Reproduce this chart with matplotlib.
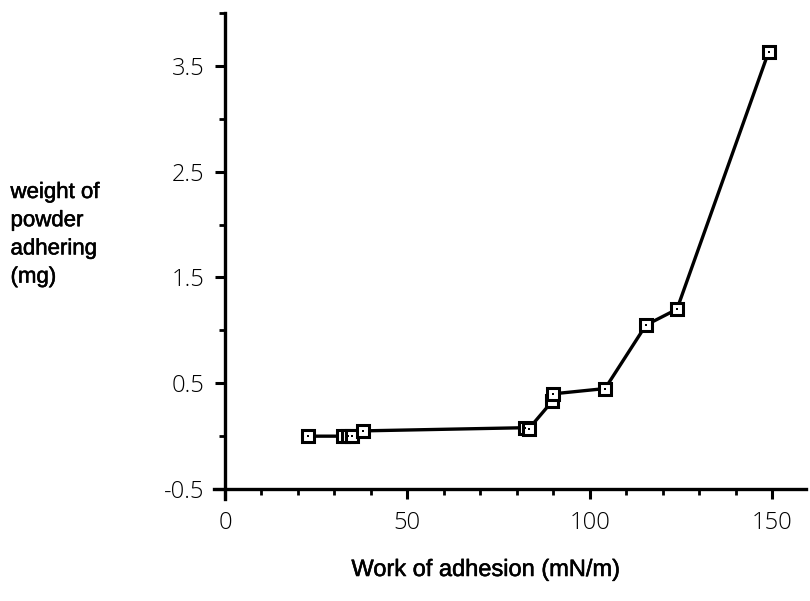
import matplotlib
matplotlib.use("Agg")
import matplotlib.pyplot as plt
import matplotlib.patheffects as pe
from matplotlib.ticker import MultipleLocator
import numpy as np

# work of adhesion (mN/m) and weight of powder adhering (mg)
work = [22.8, 32.4, 33.6, 34.8, 37.8, 82.3, 83.3, 89.7, 89.9, 104.2, 115.4, 123.9, 149.0]
weight = [0.0, 0.0, 0.0, 0.0, 0.05, 0.08, 0.07, 0.33, 0.40, 0.45, 1.05, 1.20, 3.63]

xticks = [0, 50, 100, 150]
yticks = [-0.5, 0.5, 1.5, 2.5, 3.5]
xlabel = "Work of adhesion (mN/m)"
ylabel = "weight of\npowder\nadhering\n(mg)"

fig = plt.figure(figsize=(8.1, 6.01), dpi=100)
ax = fig.add_axes([0.2642, 0.1697, 0.731, 0.8087])

ax.plot(work, weight, color="black", lw=2.4, zorder=2)
ax.plot(work, weight, ls="none", marker="s", ms=8.5, mfc="white", mec="black", mew=2.2, zorder=3)
ax.plot(work, weight, ls="none", marker="s", ms=2.0, mfc="black", mec="black", mew=0, zorder=4)

ax.set_xlim(-3, 159.3)
ax.set_ylim(-0.594, 4.0)

# axes cross at (0, -0.5)
ax.spines["left"].set_position(("data", 0))
ax.spines["bottom"].set_position(("data", -0.5))
ax.spines["top"].set_visible(False)
ax.spines["right"].set_visible(False)
for s in ("left", "bottom"):
    ax.spines[s].set_linewidth(2.4)

ax.set_xticks(xticks)
ax.set_yticks(yticks)
ax.xaxis.set_minor_locator(MultipleLocator(10))
ax.yaxis.set_minor_locator(MultipleLocator(1))
ax.set_yticklabels([str(v) for v in yticks])
ax.tick_params(which="major", direction="out", length=7, width=2.2, pad=8)
ax.tick_params(which="minor", direction="out", length=4, width=2.0)
ax.tick_params(axis="x", which="major", pad=9)

for lab in ax.get_xticklabels() + ax.get_yticklabels():
    lab.set_family("Open Sans")
    lab.set_weight("light")
    lab.set_fontsize(17)

# scanned labels look a little heavy
bold = [pe.withStroke(linewidth=0.4, foreground="black")]
fig.text(0.013, 1 - 182 / 601, ylabel, ha="left", va="top", fontsize=16,
         family="Liberation Sans", linespacing=1.45, path_effects=bold)
fig.text(0.60, 1 - 570 / 601, xlabel, ha="center", va="center", fontsize=17,
         family="Liberation Sans", path_effects=bold)

fig.savefig("out.png", dpi=100)
